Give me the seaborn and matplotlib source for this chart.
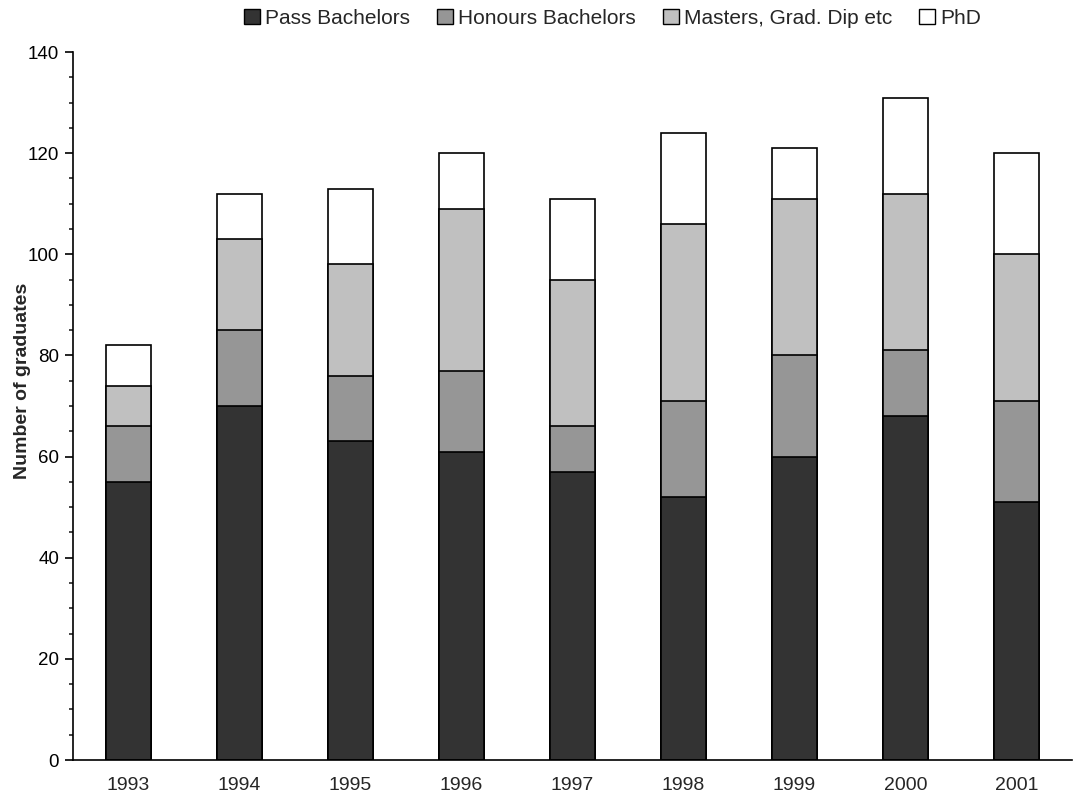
import matplotlib
matplotlib.use("Agg")
import matplotlib.pyplot as plt
from matplotlib.ticker import MultipleLocator
from matplotlib.patches import Patch
import pandas as pd
import seaborn as sns

years = ["1993", "1994", "1995", "1996", "1997", "1998", "1999", "2000", "2001"]
pass_bachelors = [55, 70, 63, 61, 57, 52, 60, 68, 51]
honours_bachelors = [11, 15, 13, 16, 9, 19, 20, 13, 20]
masters = [8, 18, 22, 32, 29, 35, 31, 31, 29]
phd = [8, 9, 15, 11, 16, 18, 10, 19, 20]

series_names = ["Pass Bachelors", "Honours Bachelors", "Masters, Grad. Dip etc", "PhD"]
series_colors = ["#333333", "#969696", "#c0c0c0", "#ffffff"]

sns.set_style("white")
plt.rcParams["font.family"] = ["Liberation Sans", "DejaVu Sans"]

df = pd.DataFrame({
    "year": years,
    series_names[0]: pass_bachelors,
    series_names[1]: honours_bachelors,
    series_names[2]: masters,
    series_names[3]: phd,
})
cum = df[series_names].cumsum(axis=1)

fig = plt.figure(figsize=(10.92, 7.98), dpi=100)
ax = fig.add_axes([0.0668, 0.0476, 0.9149, 0.8872])

# stacked bars: draw cumulative totals from the top segment downwards
for name, color in reversed(list(zip(series_names, series_colors))):
    sns.barplot(x=df["year"], y=cum[name], color=color, edgecolor="black",
                linewidth=1.2, width=0.41, saturation=1, ax=ax, order=years)

ax.set_xlim(-0.5, len(years) - 0.5)
ax.set_ylim(0, 140)
ax.yaxis.set_major_locator(MultipleLocator(20))
ax.yaxis.set_minor_locator(MultipleLocator(5))
ax.tick_params(axis="y", which="major", direction="out", length=6, width=1.2,
               labelsize=13.5, left=True, colors="black", pad=4)
ax.tick_params(axis="y", which="minor", direction="out", length=3, width=1.2, left=True)
ax.tick_params(axis="x", length=0, labelsize=14, pad=12)
ax.set_xlabel("")
ax.set_ylabel("Number of graduates", fontsize=14, fontweight="bold")
ax.yaxis.set_label_coords(-0.042, 0.535)

for side in ["top", "right"]:
    ax.spines[side].set_visible(False)
for side in ["left", "bottom"]:
    ax.spines[side].set_color("black")
    ax.spines[side].set_linewidth(1.2)

handles = [Patch(facecolor=c, edgecolor="black", linewidth=1.0, label=n)
           for n, c in zip(series_names, series_colors)]
fig.legend(handles=handles, loc="center", bbox_to_anchor=(0.561, 0.977), ncol=4,
           frameon=False, fontsize=15, handlelength=0.75, handleheight=0.75,
           handletextpad=0.25, columnspacing=1.3, borderpad=0)

fig.savefig("out.png", dpi=100)
